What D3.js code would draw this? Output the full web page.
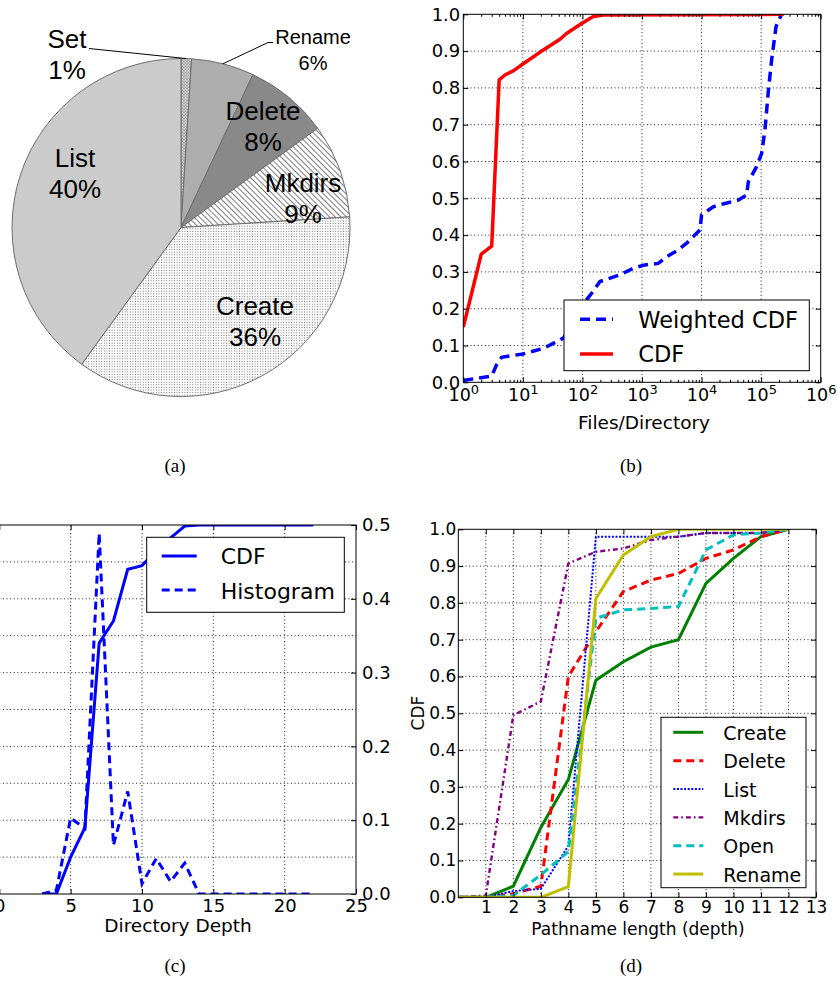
<!DOCTYPE html>
<html>
<head>
<meta charset="utf-8">
<script src="https://cdn.jsdelivr.net/npm/d3@7"></script>
<style>
  body { margin: 0; background: #fff; }
  svg { display: block; }
  text { font-family: "DejaVu Sans", sans-serif; fill: #000; }
</style>
</head>
<body>
<svg id="fig" width="837" height="985"></svg>
<script>
// ---- (a) operation mix ----
const pieLabels = ["Set", "Rename", "Delete", "Mkdirs", "Create", "List"];
const pieShares = [1, 6, 8, 9, 36, 40];

// ---- (b) files per directory ----
const fdCdfX = [1, 2, 3, 4, 5, 7, 10, 19, 42, 54, 97, 152, 224, 240000];
const fdCdfY = [0.15, 0.348, 0.37, 0.822, 0.835, 0.847, 0.865, 0.896, 0.932, 0.948, 0.975, 0.994, 0.998, 1.0];
const fdWeightedX = [1, 1.7, 3, 3.6, 4.4, 10, 22, 48, 117, 143, 197, 427, 714, 1120, 1870, 2580, 4070, 5620, 7250, 9400, 10000, 15700, 24700, 41300, 57000, 61000, 83800, 102000, 116000, 131000, 150000, 178000, 220000];
const fdWeightedY = [0.005, 0.011, 0.017, 0.047, 0.068, 0.077, 0.092, 0.12, 0.224, 0.242, 0.274, 0.292, 0.31, 0.319, 0.323, 0.341, 0.36, 0.378, 0.396, 0.414, 0.455, 0.477, 0.486, 0.495, 0.509, 0.545, 0.586, 0.622, 0.686, 0.785, 0.876, 0.967, 1.0];

// ---- (c) directory depth ----
const depths = [3, 4, 5, 6, 7, 8, 9, 10, 11, 12, 13, 14, 15, 16, 17, 18, 19, 20, 21, 22];
const depthCdf = [0, 0, 0.10, 0.18, 0.68, 0.74, 0.88, 0.89, 0.93, 0.965, 0.997, 1, 1, 1, 1, 1, 1, 1, 1, 1];
const depthHist = [0, 0.005, 0.103, 0.089, 0.489, 0.066, 0.139, 0.014, 0.048, 0.017, 0.042, 0, 0, 0, 0, 0, 0, 0, 0, 0];

// ---- (d) pathname length per operation ----
const pathDepth = [0, 1, 2, 3, 4, 5, 6, 7, 8, 9, 10, 11, 12];
const opNames = ["Create", "Delete", "List", "Mkdirs", "Open", "Rename"];
const pathCreate = [0, 0, 0.03, 0.19, 0.32, 0.59, 0.64, 0.68, 0.70, 0.853, 0.921, 0.98, 1.0];
const pathDelete = [0, 0, 0.01, 0.03, 0.60, 0.722, 0.831, 0.862, 0.88, 0.921, 0.944, 0.98, 1.0];
const pathList = [0, 0, 0.017, 0.023, 0.14, 0.98, 0.98, 0.98, 0.98, 0.99, 0.99, 0.99, 1.0];
const pathMkdirs = [0, 0.005, 0.495, 0.532, 0.907, 0.939, 0.948, 0.971, 0.98, 0.99, 0.99, 0.99, 1.0];
const pathOpen = [0, 0, 0.005, 0.061, 0.124, 0.758, 0.781, 0.785, 0.79, 0.944, 0.985, 0.99, 1.0];
const pathRename = [0, 0, 0, 0, 0.029, 0.812, 0.93, 0.98, 1.0, 1.0, 1.0, 1.0, 1.0];

const svg = d3.select("#fig");
const defs = svg.append("defs");

// fill patterns for the pie
const dots = defs.append("pattern").attr("id", "dots")
  .attr("width", 2.6).attr("height", 2.6).attr("patternUnits", "userSpaceOnUse");
dots.append("rect").attr("width", 2.6).attr("height", 2.6).attr("fill", "#fff");
dots.append("circle").attr("cx", 1.3).attr("cy", 1.3).attr("r", 0.6).attr("fill", "#7a7a7a");

const hatch = defs.append("pattern").attr("id", "hatch")
  .attr("width", 4).attr("height", 4).attr("patternUnits", "userSpaceOnUse")
  .attr("patternTransform", "rotate(-45)");
hatch.append("rect").attr("width", 4).attr("height", 4).attr("fill", "#fff");
hatch.append("line").attr("x1", 0).attr("y1", 0).attr("x2", 0).attr("y2", 4)
  .attr("stroke", "#444").attr("stroke-width", 1.4);

const checks = defs.append("pattern").attr("id", "checks")
  .attr("width", 3).attr("height", 3).attr("patternUnits", "userSpaceOnUse");
checks.append("rect").attr("width", 3).attr("height", 3).attr("fill", "#fff");
checks.append("path").attr("d", "M0,3L1.5,0L3,3").attr("fill", "none").attr("stroke", "#666").attr("stroke-width", 0.8);

// ================= (a) pie =================
const pieFills = {
  Set: "url(#checks)", Rename: "#adadad", Delete: "#898989",
  Mkdirs: "url(#hatch)", Create: "url(#dots)", List: "#cbcbcb"
};
const pcx = 181, pcy = 227.5, pr = 169;
const pieG = svg.append("g").attr("transform", `translate(${pcx},${pcy})`);
const pie = d3.pie().sort(null).value((d, i) => pieShares[i]);
const arcs = pie(pieLabels);
const arc = d3.arc().innerRadius(0).outerRadius(pr);

pieG.selectAll("path.slice").data(arcs).join("path")
  .attr("class", "slice")
  .attr("d", arc)
  .attr("fill", d => pieFills[d.data])
  .attr("stroke", "#6e6e6e")
  .attr("stroke-width", 1);

// label anchors (centre x, first baseline), relative to the pie centre
const pieLabelAt = {
  Set: [-114, -180], Rename: [132, -184], Delete: [82, -108],
  Mkdirs: [122, -36], Create: [74, 87], List: [-106, -61]
};
arcs.forEach(d => {
  const [lx, ly] = pieLabelAt[d.data];
  const small = d.data === "Rename";
  const fs = small ? 20 : 26;
  const gap = small ? 26 : 31;
  const t = pieG.append("text")
    .attr("text-anchor", "middle")
    .style("font-family", "'Liberation Sans', Arial, sans-serif")
    .attr("font-size", fs);
  t.append("tspan").attr("x", lx).attr("y", ly).text(d.data);
  t.append("tspan").attr("x", lx).attr("y", ly + gap).text(d.value + "%");
});

// leader lines for the two outside labels
const setArc = arcs[0], renArc = arcs[1];
const pSet = d3.pointRadial((setArc.startAngle + setArc.endAngle) / 2, pr);
pieG.append("path")
  .attr("d", `M${pSet[0]},${pSet[1]}L-92,-179`)
  .attr("fill", "none").attr("stroke", "#000").attr("stroke-width", 1);
const pRen = d3.pointRadial((renArc.startAngle + renArc.endAngle) / 2, pr);
pieG.append("path")
  .attr("d", `M${pRen[0]},${pRen[1]}L87,-185L92,-185`)
  .attr("fill", "none").attr("stroke", "#000").attr("stroke-width", 1);

// ================= shared helpers =================
function gridLines(g, x, y, xs, ys) {
  const [yb, yt] = y.range();
  const [xl, xr] = x.range();
  g.append("g").selectAll("line").data(xs).join("line")
    .attr("x1", d => x(d)).attr("x2", d => x(d))
    .attr("y1", yb).attr("y2", yt);
  g.append("g").selectAll("line").data(ys).join("line")
    .attr("x1", xl).attr("x2", xr)
    .attr("y1", d => y(d)).attr("y2", d => y(d));
  g.selectAll("line")
    .attr("stroke", "#000").attr("stroke-width", 0.9)
    .attr("stroke-dasharray", "1,2.6");
}

function addAxis(g, axis, transform, fs) {
  const a = g.append("g").attr("transform", transform).call(axis);
  a.select(".domain").remove();
  a.attr("font-family", null).attr("font-size", fs);
  a.selectAll(".tick line").attr("stroke", "#000").attr("stroke-width", 1);
  return a;
}

function spines(g, x, y) {
  const [xl, xr] = x.range();
  const [yb, yt] = y.range();
  g.append("rect")
    .attr("x", xl).attr("y", yt).attr("width", xr - xl).attr("height", yb - yt)
    .attr("fill", "none").attr("stroke", "#000").attr("stroke-width", 1);
}

function clipFor(id, x, y) {
  const [xl, xr] = x.range();
  const [yb, yt] = y.range();
  defs.append("clipPath").attr("id", id).append("rect")
    .attr("x", xl).attr("y", yt).attr("width", xr - xl).attr("height", yb - yt);
  return `url(#${id})`;
}

function legendBox(g, x0, y0, w, h) {
  g.append("rect").attr("x", x0).attr("y", y0).attr("width", w).attr("height", h)
    .attr("fill", "#fff").attr("stroke", "#000").attr("stroke-width", 1);
}

// ================= (b) files / directory =================
const bx = d3.scaleLog().domain([1, 1e6]).range([463.3, 820.7]);
const by = d3.scaleLinear().domain([0, 1]).range([382.3, 14.3]);
const bG = svg.append("g");
const decades = [1, 10, 100, 1e3, 1e4, 1e5, 1e6];
const minorB = [];
for (let k = 0; k < 6; k++) for (let m = 2; m <= 9; m++) minorB.push(m * Math.pow(10, k));
const tenthTicks = d3.range(0, 11).map(i => i / 10);

gridLines(bG, bx, by, decades.slice(1, -1), tenthTicks.slice(1, -1));

const bLines = bG.append("g").attr("clip-path", clipFor("clipB", bx, by));
const bLine = d3.line().x(d => bx(d[0])).y(d => by(d[1]));
bLines.append("path")
  .attr("d", bLine(d3.zip(fdWeightedX, fdWeightedY)))
  .attr("fill", "none").attr("stroke", "#0000ff").attr("stroke-width", 3.5)
  .attr("stroke-dasharray", "10,6");
bLines.append("path")
  .attr("d", bLine(d3.zip(fdCdfX, fdCdfY)))
  .attr("fill", "none").attr("stroke", "#ff0000").attr("stroke-width", 3.5)
  .attr("stroke-linejoin", "round");

addAxis(bG, d3.axisBottom(bx).tickValues(decades).tickSize(-5).tickSizeOuter(0).tickPadding(6),
  `translate(0,${by(0)})`, 17.5)
  .selectAll(".tick text").each(function (d) {
    const t = d3.select(this);
    t.text("10");
    t.append("tspan").attr("dy", "-0.55em").attr("font-size", 13).text(Math.round(Math.log10(d)));
  });
addAxis(bG, d3.axisBottom(bx).tickValues(minorB).tickSize(-2.5).tickSizeOuter(0).tickFormat(""),
  `translate(0,${by(0)})`, 17);
addAxis(bG, d3.axisTop(bx).tickValues(decades).tickSize(-5).tickSizeOuter(0).tickFormat(""),
  `translate(0,${by(1)})`, 17);
addAxis(bG, d3.axisTop(bx).tickValues(minorB).tickSize(-2.5).tickSizeOuter(0).tickFormat(""),
  `translate(0,${by(1)})`, 17);
addAxis(bG, d3.axisLeft(by).tickValues(tenthTicks).tickSize(-5).tickSizeOuter(0).tickPadding(3).tickFormat(d3.format(".1f")),
  `translate(${bx(1)},0)`, 18);
addAxis(bG, d3.axisRight(by).tickValues(tenthTicks).tickSize(-5).tickSizeOuter(0).tickFormat(""),
  `translate(${bx(1e6)},0)`, 18);
spines(bG, bx, by);

bG.append("text").attr("x", 644).attr("y", 429).attr("text-anchor", "middle")
  .attr("font-size", 18.5).text("Files/Directory");

legendBox(bG, 564, 300, 245.3, 70.7);
bG.append("line").attr("x1", 580).attr("x2", 613).attr("y1", 319.3).attr("y2", 319.3)
  .attr("stroke", "#0000ff").attr("stroke-width", 3.5).attr("stroke-dasharray", "10,6");
bG.append("text").attr("x", 638.3).attr("y", 327.5).attr("font-size", 22.5).text("Weighted CDF");
bG.append("line").attr("x1", 580).attr("x2", 613).attr("y1", 354).attr("y2", 354)
  .attr("stroke", "#ff0000").attr("stroke-width", 3.5);
bG.append("text").attr("x", 638.3).attr("y", 362).attr("font-size", 22.5).text("CDF");

// ================= (c) directory depth =================
const cx = d3.scaleLinear().domain([0, 25]).range([-0.7, 356]);
const cyL = d3.scaleLinear().domain([0, 1]).range([894, 525]);
const cyR = d3.scaleLinear().domain([0, 0.5]).range([894, 525]);
const cG = svg.append("g");
const fives = [0, 5, 10, 15, 20, 25];

gridLines(cG, cx, cyL, fives.slice(1, -1), tenthTicks.slice(1, -1));

const cLines = cG.append("g").attr("clip-path", clipFor("clipC", cx, cyL));
cLines.append("path")
  .attr("d", d3.line().x(d => cx(d[0])).y(d => cyL(d[1]))(d3.zip(depths, depthCdf)))
  .attr("fill", "none").attr("stroke", "#0000ff").attr("stroke-width", 3);
cLines.append("path")
  .attr("d", d3.line().x(d => cx(d[0])).y(d => cyR(d[1]))(d3.zip(depths, depthHist)))
  .attr("fill", "none").attr("stroke", "#0000ff").attr("stroke-width", 3)
  .attr("stroke-dasharray", "8,5");

addAxis(cG, d3.axisBottom(cx).tickValues(fives).tickSize(-5).tickSizeOuter(0).tickPadding(5),
  `translate(0,${cyL(0)})`, 18);
addAxis(cG, d3.axisTop(cx).tickValues(fives).tickSize(-5).tickSizeOuter(0).tickFormat(""),
  `translate(0,${cyL(1)})`, 18);
addAxis(cG, d3.axisRight(cyR).tickValues(d3.range(0, 6).map(i => i / 10)).tickSize(-5).tickSizeOuter(0)
  .tickPadding(6).tickFormat(d3.format(".1f")),
  `translate(${cx(25)},0)`, 18);
spines(cG, cx, cyL);

cG.append("text").attr("x", 178).attr("y", 932).attr("text-anchor", "middle")
  .attr("font-size", 18.5).text("Directory Depth");

legendBox(cG, 146.7, 537.3, 197.6, 75);
cG.append("line").attr("x1", 161.7).attr("x2", 196.7).attr("y1", 556).attr("y2", 556)
  .attr("stroke", "#0000ff").attr("stroke-width", 3);
cG.append("text").attr("x", 220.7).attr("y", 564).attr("font-size", 22).text("CDF");
cG.append("line").attr("x1", 161.7).attr("x2", 196.7).attr("y1", 590).attr("y2", 590)
  .attr("stroke", "#0000ff").attr("stroke-width", 3).attr("stroke-dasharray", "8,5");
cG.append("text").attr("x", 220.7).attr("y", 598.5).attr("font-size", 22).text("Histogram");

// ================= (d) pathname length =================
const dx = d3.scaleLinear().domain([0, 13]).range([458.3, 816]);
const dy = d3.scaleLinear().domain([0, 1]).range([897.3, 529.3]);
const dG = svg.append("g");
const opSeries = [pathCreate, pathDelete, pathList, pathMkdirs, pathOpen, pathRename];
const opColors = ["#008000", "#ff0000", "#0000ff", "#800080", "#00bfbf", "#bfbf00"];
const opDash = [null, "8,5", "2,1.6", "5,3,1.6,3", "8,5", null];
const opWidth = [3, 3, 2, 2.4, 3, 3];
const dTicks = d3.range(1, 14);

gridLines(dG, dx, dy, d3.range(1, 13), tenthTicks.slice(1, -1));

const dLines = dG.append("g").attr("clip-path", clipFor("clipD", dx, dy));
const dLine = d3.line().x(d => dx(d[0])).y(d => dy(d[1]));
opSeries.forEach((vals, i) => {
  dLines.append("path")
    .attr("d", dLine(d3.zip(pathDepth, vals)))
    .attr("fill", "none").attr("stroke", opColors[i]).attr("stroke-width", opWidth[i])
    .attr("stroke-dasharray", opDash[i]);
});

addAxis(dG, d3.axisBottom(dx).tickValues(dTicks).tickSize(-5).tickSizeOuter(0).tickPadding(3.5),
  `translate(0,${dy(0)})`, 17);
addAxis(dG, d3.axisTop(dx).tickValues(dTicks).tickSize(-5).tickSizeOuter(0).tickFormat(""),
  `translate(0,${dy(1)})`, 17);
addAxis(dG, d3.axisLeft(dy).tickValues(tenthTicks).tickSize(-5).tickSizeOuter(0).tickPadding(2).tickFormat(d3.format(".1f")),
  `translate(${dx(0)},0)`, 17);
addAxis(dG, d3.axisRight(dy).tickValues(tenthTicks).tickSize(-5).tickSizeOuter(0).tickFormat(""),
  `translate(${dx(13)},0)`, 17);
spines(dG, dx, dy);

dG.append("text").attr("x", 638).attr("y", 935).attr("text-anchor", "middle")
  .attr("font-size", 17).text("Pathname length (depth)");
dG.append("text").attr("transform", "translate(424,713) rotate(-90)")
  .attr("text-anchor", "middle").attr("font-size", 17).text("CDF");

legendBox(dG, 661, 717.3, 145, 170.4);
opNames.forEach((name, i) => {
  const ly = 732.3 + i * 28.35;
  dG.append("line").attr("x1", 673.3).attr("x2", 703.3).attr("y1", ly).attr("y2", ly)
    .attr("stroke", opColors[i]).attr("stroke-width", opWidth[i])
    .attr("stroke-dasharray", opDash[i]);
  dG.append("text").attr("x", 723.3).attr("y", ly + 7.5).attr("font-size", 19).text(name);
});

// ================= captions =================
const captions = ["(a)", "(b)", "(c)", "(d)"];
const capX = [175, 631, 175, 631], capY = [472, 472, 972, 972];
svg.selectAll("text.cap").data(captions).join("text")
  .attr("class", "cap")
  .attr("x", (d, i) => capX[i]).attr("y", (d, i) => capY[i])
  .attr("text-anchor", "middle")
  .style("font-family", "'Liberation Serif', 'Times New Roman', serif")
  .attr("font-size", 19)
  .text(d => d);
</script>
</body>
</html>
